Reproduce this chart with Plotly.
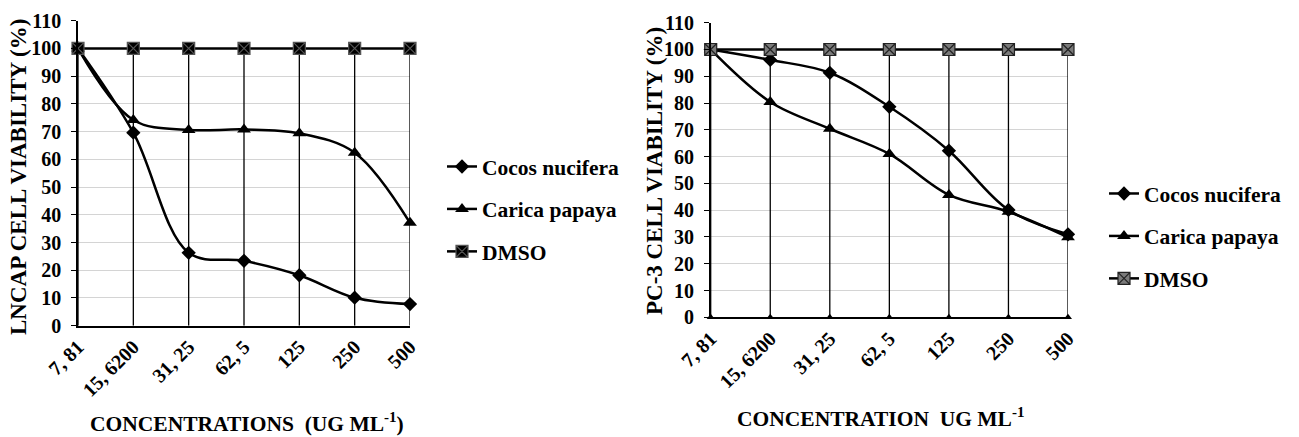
import plotly.graph_objects as go

categories = ["7, 81", "15, 6200", "31, 25", "62, 5", "125", "250", "500"]
y_ticks = [0, 10, 20, 30, 40, 50, 60, 70, 80, 90, 100, 110]

lncap_cocos = [100, 69.6, 26.3, 23.4, 18.2, 10.1, 7.8]
lncap_carica = [100, 74.2, 70.6, 70.8, 69.4, 62.4, 37.1]
lncap_dmso = [100, 100, 100, 100, 100, 100, 100]

pc3_cocos = [100, 96.1, 91.3, 78.6, 62.2, 40.1, 31.0]
pc3_carica = [100, 80.4, 70.4, 61.0, 45.7, 39.4, 29.9]
pc3_dmso = [100, 100, 100, 100, 100, 100, 100]
pc3_base = [0, 0, 0, 0, 0, 0, 0]

FONT = "Liberation Serif"
W, H = 1299, 437
xi = list(range(len(categories)))


def px(x):
    return x / W


def py(y):
    return 1 - y / H


fig = go.Figure()


def drop_lines(series_list, xa, ya):
    xs, ys = [], []
    for i in xi:
        top = max(s[i] for s in series_list)
        xs += [i, i, None]
        ys += [0, top, None]
    return go.Scatter(x=xs, y=ys, mode="lines", line=dict(color="black", width=1.3),
                      xaxis=xa, yaxis=ya, showlegend=False, hoverinfo="skip", cliponaxis=False)


def add_panel(cocos, carica, dmso, xa, ya, legend, dmso_color, dmso_line):
    fig.add_trace(drop_lines([cocos, carica, dmso], xa, ya))
    fig.add_trace(go.Scatter(x=xi, y=cocos, name="Cocos nucifera", mode="lines+markers",
                             line=dict(color="black", width=2.5, shape="spline", smoothing=1.0),
                             marker=dict(symbol="diamond", size=11, color="black"),
                             xaxis=xa, yaxis=ya, legend=legend, legendgroup=legend + "a", cliponaxis=False))
    fig.add_trace(go.Scatter(x=xi, y=carica, name="Carica papaya", mode="lines+markers",
                             line=dict(color="black", width=2.5, shape="spline", smoothing=1.0),
                             marker=dict(symbol="triangle-up", size=12, color="black"),
                             xaxis=xa, yaxis=ya, legend=legend, legendgroup=legend + "b", cliponaxis=False))
    fig.add_trace(go.Scatter(x=xi, y=dmso, name="DMSO", mode="lines+markers",
                             line=dict(color="black", width=2.5),
                             marker=dict(symbol="square-x", size=12, color=dmso_color,
                                         line=dict(color=dmso_line, width=1.2)),
                             xaxis=xa, yaxis=ya, legend=legend, legendgroup=legend + "c", cliponaxis=False))


add_panel(lncap_cocos, lncap_carica, lncap_dmso, "x", "y", "legend", "black", "#555555")
add_panel(pc3_cocos, pc3_carica, pc3_dmso, "x2", "y2", "legend2", "#7a7a7a", "#222222")
fig.add_trace(go.Scatter(x=xi, y=pc3_base, mode="markers",
                         marker=dict(symbol="triangle-up", size=7, color="black"),
                         xaxis="x2", yaxis="y2", showlegend=False, hoverinfo="skip", cliponaxis=False))

axis_font = dict(family=FONT, size=20, color="black", weight="bold")

xcommon = dict(range=[0, 6], tickvals=xi, ticktext=categories, tickangle=-45,
               tickfont=axis_font, showgrid=False, zeroline=False, automargin=False,
               showline=True, linecolor="black", linewidth=1.5, ticks="")
ycommon = dict(range=[0, 110], tickvals=y_ticks, tickfont=axis_font, automargin=False,
               showgrid=True, gridcolor="#d4d4d4", gridwidth=1, zeroline=False,
               showline=True, linecolor="black", linewidth=1.5, ticks="outside",
               ticklen=5, tickcolor="black", ticklabelstandoff=6)

L = dict(x0=78, x1=410, y0=325.7, y1=20.7)
R = dict(x0=710.7, x1=1068, y0=317.3, y1=22.7)

fig.update_layout(
    width=W, height=H, margin=dict(l=0, r=0, t=0, b=0, autoexpand=False),
    paper_bgcolor="white", plot_bgcolor="white",
    xaxis=dict(domain=[px(L["x0"]), px(L["x1"])], anchor="y", **xcommon),
    yaxis=dict(domain=[py(L["y0"]), py(L["y1"])], anchor="x", **ycommon),
    xaxis2=dict(domain=[px(R["x0"]), px(R["x1"])], anchor="y2", **xcommon),
    yaxis2=dict(domain=[py(R["y0"]), py(R["y1"])], anchor="x2", **ycommon),
    legend=dict(x=px(442), y=py(146), xanchor="left", yanchor="top",
                font=dict(family=FONT, size=21.5, color="black", weight="bold"),
                tracegroupgap=11.5, bgcolor="rgba(0,0,0,0)"),
    legend2=dict(x=px(1104), y=py(173), xanchor="left", yanchor="top",
                 font=dict(family=FONT, size=21.5, color="black", weight="bold"),
                 tracegroupgap=11.5, bgcolor="rgba(0,0,0,0)"),
    showlegend=True,
)

ytitle_font = dict(family=FONT, size=23, color="black", weight="bold")
xtitle_font = dict(family=FONT, size=21.5, color="black", weight="bold")
common_ann = dict(xref="paper", yref="paper", showarrow=False, xanchor="center", yanchor="middle")
fig.add_annotation(text="LNCAP CELL VIABILITY (%)", x=px(19), y=py(177), textangle=-90,
                   font=ytitle_font, **common_ann)
fig.add_annotation(text="PC-3 CELL VIABILITY (%)", x=px(655), y=py(171), textangle=-90,
                   font=ytitle_font, **common_ann)
fig.add_annotation(text="CONCENTRATIONS  (UG ML<sup>-1</sup>)", x=px(247), y=py(422),
                   font=xtitle_font, **common_ann)
fig.add_annotation(text="CONCENTRATION  UG ML<sup>-1</sup>", x=px(880), y=py(417),
                   font=xtitle_font, **common_ann)

fig.write_html("out.html", config={"displayModeBar": False},
               post_script="document.body.style.margin='0px';")
